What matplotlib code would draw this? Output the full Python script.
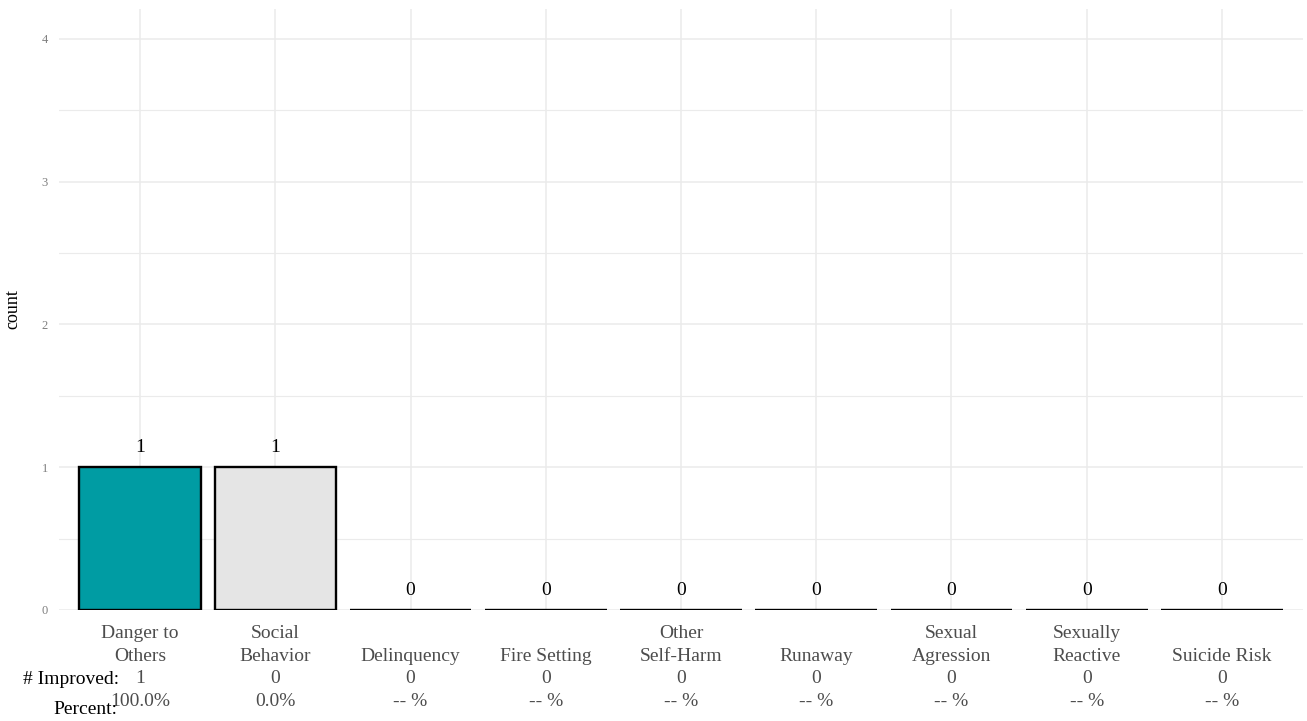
import matplotlib
matplotlib.use("Agg")
import matplotlib.pyplot as plt

# datos
categorias = ['Danger to\nOthers', 'Social\nBehavior', '\nDelinquency', '\nFire Setting',
              'Other\nSelf-Harm', '\nRunaway', 'Sexual\nAgression', 'Sexually\nReactive',
              '\nSuicide Risk']
conteo = [1, 1, 0, 0, 0, 0, 0, 0, 0]
mejorados = ['1', '0', '0', '0', '0', '0', '0', '0', '0']
porcentaje = ['100.0%', '0.0%', '-- %', '-- %', '-- %', '-- %', '-- %', '-- %', '-- %']
colores = ['#009CA3', '#E5E5E5', '#E5E5E5', '#E5E5E5', '#E5E5E5', '#E5E5E5', '#E5E5E5',
           '#E5E5E5', '#E5E5E5']

plt.rcParams['font.family'] = ['Liberation Serif', 'DejaVu Serif']

fig = plt.figure(figsize=(13.07, 7.21), dpi=100)
ax = fig.add_axes([59 / 1307, (721 - 610) / 721, (1303 - 59) / 1307, (610 - 9) / 721])

x = list(range(len(categorias)))
ax.bar(x, conteo, width=0.9, color=colores, edgecolor='black', linewidth=1.7, zorder=3)

# valores sobre las barras
for i, v in enumerate(conteo):
    ax.text(i, v + 0.08, str(v), ha='center', va='bottom', fontsize=14, color='black')

ax.set_xlim(-0.6, len(categorias) - 0.4)
ax.set_ylim(0, 4.21)

etiquetas = [f'{c}\n{m}\n{p}' for c, m, p in zip(categorias, mejorados, porcentaje)]
ax.set_xticks(x)
ax.set_xticklabels(etiquetas, fontsize=14, color='#4d4d4d', linespacing=1.42)
ax.set_yticks([0, 1, 2, 3, 4])
ax.set_yticks([0.5, 1.5, 2.5, 3.5], minor=True)
ax.tick_params(axis='y', labelsize=9, labelcolor='#7f7f7f', length=0, pad=8)
ax.tick_params(axis='x', length=0, pad=11)
ax.tick_params(which='minor', length=0)

ax.grid(True, which='major', color='#ebebeb', linewidth=1.1, zorder=0)
ax.grid(True, which='minor', axis='y', color='#ebebeb', linewidth=0.8, zorder=0)
for s in ax.spines.values():
    s.set_visible(False)

ax.set_ylabel('count', fontsize=13, color='black')
ax.yaxis.set_label_coords(-0.03, 0.5)

fig.text(119 / 1307, 1 - 679 / 721, '# Improved:', ha='right', va='center', fontsize=14, color='black')
fig.text(117 / 1307, 1 - 710 / 721, 'Percent:', ha='right', va='center', fontsize=14, color='black')

fig.savefig('out.png', dpi=100)
